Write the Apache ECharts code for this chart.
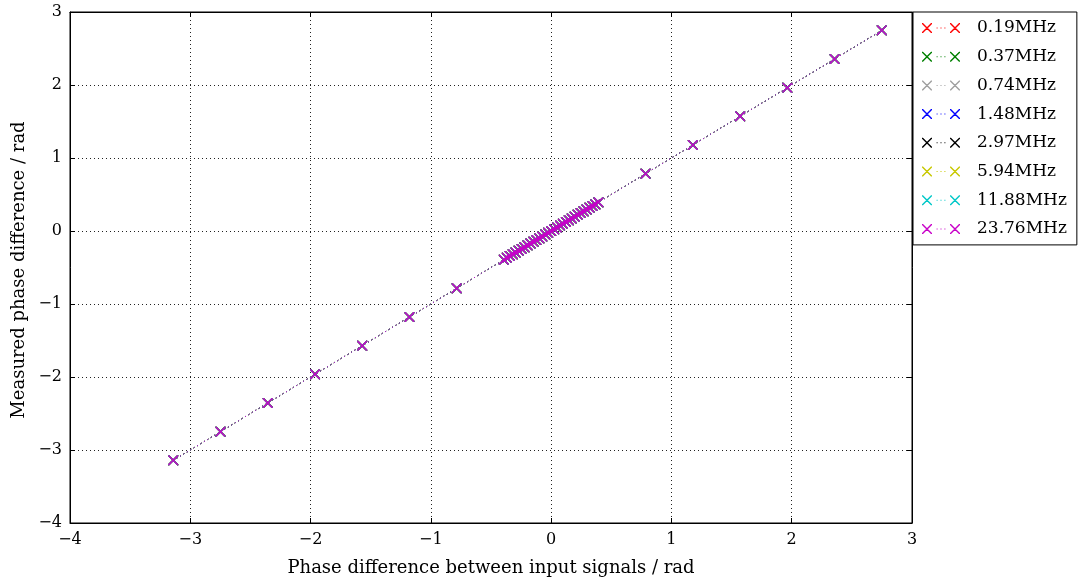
<!DOCTYPE html>
<html>
<head>
<meta charset="utf-8">
<script src="https://cdn.jsdelivr.net/npm/echarts@6/dist/echarts.min.js"></script>
<style>html,body{margin:0;padding:0;background:#fff;}#c{width:1081px;height:583px;}</style>
</head>
<body>
<div id="c"></div>
<script>
// Data
const seriesNames = ['0.19MHz','0.37MHz','0.74MHz','1.48MHz','2.97MHz','5.94MHz','11.88MHz','23.76MHz'];
const seriesColors = ['#ff0000','#008000','#a0a0a0','#0000ff','#000000','#c8c800','#00c8c8','#c800c8'];
const inputPhase = [-3.142,-2.749,-2.356,-1.963,-1.571,-1.178,-0.785,
  -0.393,-0.368,-0.344,-0.319,-0.295,-0.270,-0.245,-0.221,-0.196,-0.172,-0.147,-0.123,-0.098,-0.074,-0.049,-0.025,
  0.000,0.025,0.049,0.074,0.098,0.123,0.147,0.172,0.196,0.221,0.245,0.270,0.295,0.319,0.344,0.368,0.393,
  0.785,1.178,1.571,1.963,2.356,2.749];
const measuredPhase = [-3.142,-2.749,-2.356,-1.963,-1.571,-1.178,-0.785,
  -0.393,-0.368,-0.344,-0.319,-0.295,-0.270,-0.245,-0.221,-0.196,-0.172,-0.147,-0.123,-0.098,-0.074,-0.049,-0.025,
  0.000,0.025,0.049,0.074,0.098,0.123,0.147,0.172,0.196,0.221,0.245,0.270,0.295,0.319,0.344,0.368,0.393,
  0.785,1.178,1.571,1.963,2.356,2.749];
const xTicks = [-4,-3,-2,-1,0,1,2,3];
const yTicks = [-4,-3,-2,-1,0,1,2,3];
const xLabel = 'Phase difference between input signals / rad';
const yLabel = 'Measured phase difference / rad';

const FONT = 'DejaVu Serif';
const crossPath = 'path://M0,0L1,0L10,9L10,10L9,10L0,1ZM9,0L10,0L10,1L1,10L0,10L0,9Z';
const legendIcon = 'path://M0,0L1,0L10,9L10,10L9,10L0,1ZM9,0L10,0L10,1L1,10L0,10L0,9Z' +
  'M14.6,4.5L15.6,4.5L15.6,5.5L14.6,5.5Z M18.5,4.5L19.5,4.5L19.5,5.5L18.5,5.5Z M22.4,4.5L23.4,4.5L23.4,5.5L22.4,5.5Z' +
  'M28,0L29,0L38,9L38,10L37,10L28,1ZM37,0L38,0L38,1L29,10L28,10L28,9Z';
const fmt = v => String(v).replace('-', '\u2212');

const chart = echarts.init(document.getElementById('c'), null, {renderer: 'canvas'});
const axisCommon = {
  type: 'value', min: -4, max: 3, interval: 1,
  axisLine: {show: true, onZero: false, lineStyle: {color: '#000', width: 1}},
  axisTick: {show: true, inside: true, length: 5, lineStyle: {color: '#000'}},
};
chart.setOption({
  animation: false,
  backgroundColor: '#fff',
  grid: {left: 70, right: 169, top: 12, bottom: 60, show: true, borderColor: '#000', borderWidth: 1, backgroundColor: 'transparent'},
  graphic: [{
    type: 'text', x: 19, y: 270, rotation: Math.PI / 2,
    style: {text: yLabel, fontFamily: FONT, fontSize: 18, fill: '#000', align: 'center', verticalAlign: 'middle'}
  }],
  legend: {
    orient: 'vertical', left: 913, top: 12,
    padding: [7, 10, 7, 9], itemGap: 10.7,
    itemWidth: 38, itemHeight: 10,
    borderColor: '#000', borderWidth: 1, backgroundColor: '#fff',
    data: seriesNames.map(n => ({name: n, icon: legendIcon})),
    textStyle: {fontFamily: FONT, fontSize: 17, color: '#000', lineHeight: 18, padding: [0, 0, 0, 12]}
  },
  xAxis: [
    Object.assign({}, axisCommon, {
      position: 'bottom',
      name: xLabel, nameLocation: 'middle', nameGap: 36,
      nameTextStyle: {fontFamily: FONT, fontSize: 18, color: '#000'},
      axisLabel: {fontFamily: FONT, fontSize: 16, color: '#000', margin: 9, formatter: fmt,
        customValues: xTicks},
      splitLine: {show: true, lineStyle: {color: '#222', type: [1, 3], width: 1}}
    }),
    Object.assign({}, axisCommon, {position: 'top', axisLabel: {show: false}, splitLine: {show: false}})
  ],
  yAxis: [
    Object.assign({}, axisCommon, {
      position: 'left',
      axisLabel: {fontFamily: FONT, fontSize: 16, color: '#000', margin: 8, formatter: fmt,
        customValues: yTicks},
      splitLine: {show: true, lineStyle: {color: '#222', type: [1, 3], width: 1}}
    }),
    Object.assign({}, axisCommon, {position: 'right', axisLabel: {show: false}, splitLine: {show: false}})
  ],
  series: seriesNames.map((name, i) => ({
    name: name,
    type: 'line',
    xAxisIndex: 0, yAxisIndex: 0,
    color: seriesColors[i],
    data: inputPhase.map((x, j) => [x, measuredPhase[j]]),
    symbol: crossPath,
    symbolSize: 10,
    showAllSymbol: true,
    itemStyle: {color: seriesColors[i]},
    lineStyle: {color: seriesColors[i], width: 1, type: [1, 3]},
    z: 2 + i
  }))
});
</script>
</body>
</html>
